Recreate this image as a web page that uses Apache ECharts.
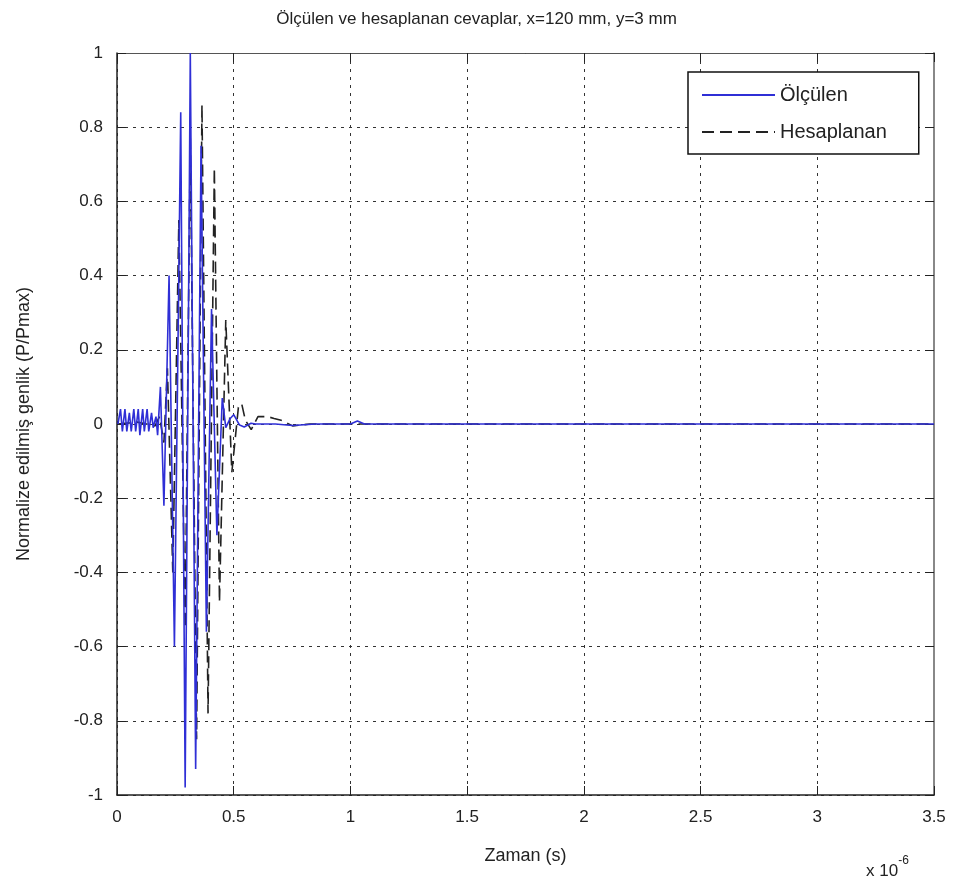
<!DOCTYPE html>
<html>
<head>
<meta charset="utf-8">
<script src="https://cdn.jsdelivr.net/npm/echarts@6/dist/echarts.min.js"></script>
<style>
html,body{margin:0;padding:0;background:#fff;}
#main{width:953px;height:888px;}
</style>
</head>
<body>
<div id="main"></div>
<script>
// Time axis values in units of 1e-6 s
const xTicks = [0, 0.5, 1, 1.5, 2, 2.5, 3, 3.5];
const yTicks = [-1, -0.8, -0.6, -0.4, -0.2, 0, 0.2, 0.4, 0.6, 0.8, 1];

// Ölçülen (measured)
const olculenT = [0.004, 0.015, 0.023, 0.034, 0.042, 0.053, 0.061, 0.072, 0.080, 0.091, 0.098, 0.110, 0.117, 0.129, 0.136, 0.148, 0.155, 0.167, 0.174, 0.186, 0.201, 0.223, 0.246, 0.273, 0.292, 0.314, 0.337, 0.360, 0.383, 0.405, 0.428, 0.451, 0.466, 0.485, 0.500, 0.525, 0.545, 0.574, 0.594, 0.629, 0.678, 0.752, 0.851, 1.000, 1.030, 1.060, 1.500, 2.000, 2.500, 3.000, 3.500];
const olculenV = [0.00, 0.04, -0.02, 0.04, -0.02, 0.03, -0.02, 0.04, -0.02, 0.04, -0.03, 0.04, -0.02, 0.04, -0.02, 0.03, -0.01, 0.02, -0.03, 0.10, -0.22, 0.40, -0.60, 0.84, -0.98, 1.00, -0.93, 0.75, -0.56, 0.31, -0.30, 0.07, -0.01, 0.015, 0.025, -0.003, -0.008, 0.002, 0.000, 0.000, 0.000, -0.004, 0.000, 0.000, 0.008, 0.000, 0.000, 0.000, 0.000, 0.000, 0.000];

// Hesaplanan (calculated)
const hesapT = [0.004, 0.087, 0.163, 0.182, 0.201, 0.216, 0.239, 0.265, 0.292, 0.314, 0.341, 0.364, 0.390, 0.417, 0.439, 0.466, 0.492, 0.520, 0.534, 0.550, 0.575, 0.604, 0.644, 0.673, 0.703, 0.752, 0.827, 1.500, 2.000, 2.500, 3.000, 3.500];
const hesapV = [0.00, 0.005, -0.005, 0.02, -0.05, 0.15, -0.40, 0.55, -0.55, 0.77, -0.85, 0.86, -0.78, 0.69, -0.48, 0.28, -0.13, 0.045, 0.055, 0.01, -0.015, 0.02, 0.02, 0.015, 0.01, -0.005, 0.000, 0.000, 0.000, 0.000, 0.000, 0.000];

const seriesNames = ['Ölçülen', 'Hesaplanan'];
const titleText = 'Ölçülen ve hesaplanan cevaplar, x=120 mm, y=3 mm';
const xName = 'Zaman (s)';
const yName = 'Normalize edilmiş genlik (P/Pmax)';

const pairs = (t, v) => t.map((x, i) => [x, v[i]]);
const FONT = 'Liberation Sans, Arial, sans-serif';
const gridLine = { show: true, lineStyle: { color: '#333', type: [3, 5], width: 1 } };

const chart = echarts.init(document.getElementById('main'), null, { renderer: 'canvas' });
chart.setOption({
  backgroundColor: '#fff',
  animation: false,
  textStyle: { fontFamily: FONT },
  title: {
    text: titleText, left: 'center', top: 6,
    textStyle: { fontSize: 17, fontWeight: 'normal', color: '#222', fontFamily: FONT }
  },
  grid: { left: 117, right: 19, top: 53, bottom: 93, containLabel: false },
  legend: {
    left: 688, top: 72, orient: 'vertical',
    backgroundColor: '#fff', borderColor: '#111', borderWidth: 1.5,
    padding: [13, 32, 12, 13], itemWidth: 73, itemHeight: 14, itemGap: 17,
    itemStyle: { opacity: 0 },
    textStyle: { fontSize: 20, color: '#222', fontFamily: FONT, padding: [0, 0, 0, 0] },
    data: seriesNames
  },
  xAxis: [{
    type: 'value', min: xTicks[0], max: xTicks[xTicks.length - 1], interval: 0.5,
    name: xName, nameLocation: 'middle', nameGap: 52,
    nameTextStyle: { fontSize: 18, color: '#222', fontFamily: FONT },
    axisLine: { show: true, onZero: false, lineStyle: { color: '#222', width: 1.5 } },
    axisTick: { show: true, inside: true, length: 9, lineStyle: { color: '#222' } },
    axisLabel: { fontSize: 17, color: '#222', margin: 14, fontFamily: FONT },
    splitLine: gridLine
  }, {
    type: 'value', position: 'top', min: xTicks[0], max: xTicks[xTicks.length - 1], interval: 0.5,
    axisLine: { show: true, onZero: false, lineStyle: { color: '#555', width: 1 } },
    axisTick: { show: true, inside: true, length: 9, lineStyle: { color: '#222' } },
    axisLabel: { show: false }, splitLine: { show: false }
  }],
  yAxis: [{
    type: 'value', min: yTicks[0], max: yTicks[yTicks.length - 1], interval: 0.2,
    name: yName, nameLocation: 'middle', nameGap: 84,
    nameTextStyle: { fontSize: 18, color: '#222', fontFamily: FONT },
    axisLine: { show: true, onZero: false, lineStyle: { color: '#222', width: 1.5 } },
    axisTick: { show: true, inside: true, length: 9, lineStyle: { color: '#222' } },
    axisLabel: { fontSize: 17, color: '#222', margin: 14, fontFamily: FONT },
    splitLine: gridLine
  }, {
    type: 'value', position: 'right', min: yTicks[0], max: yTicks[yTicks.length - 1], interval: 0.2,
    axisLine: { show: true, onZero: false, lineStyle: { color: '#888', width: 2 } },
    axisTick: { show: true, inside: true, length: 9, lineStyle: { color: '#222' } },
    axisLabel: { show: false }, splitLine: { show: false }
  }],
  graphic: [{
    type: 'text', left: 866, top: 855,
    style: {
      text: '{a|x 10}{b|-6}',
      rich: {
        a: { fontSize: 17, fill: '#222', fontFamily: FONT, padding: [8, 0, 0, 0] },
        b: { fontSize: 12, fill: '#222', fontFamily: FONT, verticalAlign: 'top' }
      }
    }
  }],
  series: [{
    name: seriesNames[1], type: 'line', xAxisIndex: 0, yAxisIndex: 0,
    data: pairs(hesapT, hesapV), symbol: 'none',
    lineStyle: { color: '#222', width: 1.6, type: [12, 6] },
    itemStyle: { color: '#222' }, z: 3
  }, {
    name: seriesNames[0], type: 'line', xAxisIndex: 0, yAxisIndex: 0,
    data: pairs(olculenT, olculenV), symbol: 'none',
    lineStyle: { color: '#2f2fd6', width: 1.6 },
    itemStyle: { color: '#2f2fd6' }, z: 4
  }]
});
</script>
</body>
</html>
